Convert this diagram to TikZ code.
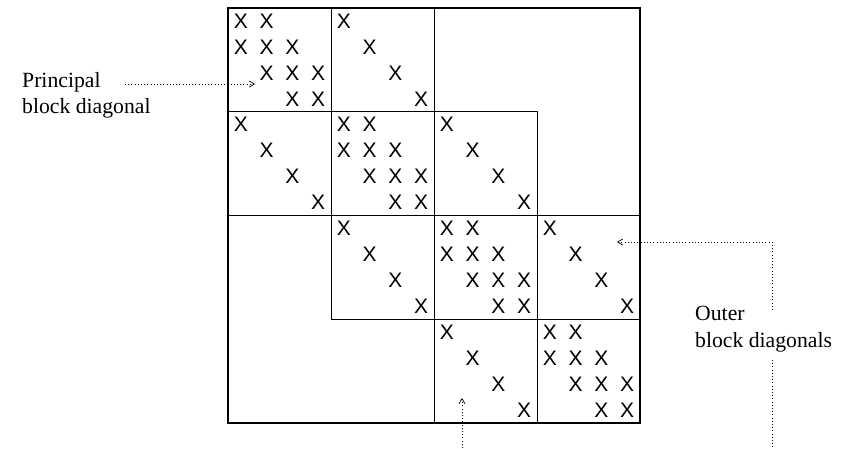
\documentclass[tikz,border=0pt]{standalone}
\usepackage{fontspec}
\setmainfont{Liberation Serif}
\newfontfamily\xfont{Liberation Sans}
\usetikzlibrary{arrows.meta}
\begin{document}
\begin{tikzpicture}[x=1pt,y=-1pt,
  blk/.style={draw,line width=1pt},
  frame/.style={draw,line width=2.5pt},
  ent/.style={font=\xfont\fontsize{21}{21}\selectfont, inner sep=0pt},
  lbl/.style={font=\fontsize{21.7}{26}\selectfont, inner sep=0pt, anchor=base west},
  dots/.style={line width=0.9pt, dash pattern=on 1pt off 2.2pt},
  ptr/.style={dots, -{Straight Barb[length=5pt,width=6pt,line width=0.7pt]}}]
\useasboundingbox (0,0) rectangle (850,448);
\def\bw{103}
\def\bh{103.75}
% diagonal blocks
\foreach \k in {0,...,3}{
  \draw[blk] ({228+\bw*\k},{8+\bh*\k}) rectangle +(\bw,\bh);
  \foreach \i in {0,...,3}{
    \foreach \j in {0,...,3}{
      \pgfmathtruncatemacro\d{abs(\i-\j)}
      \ifnum\d<2
        \node[ent] (d\k\i\j) at ({228+\bw*\k+\bw/4*(\j+0.5)},{8+\bh*\k+\bh/4*(\i+0.5)}) {X};
      \fi
    }
  }
}
% off-diagonal blocks
\foreach \k in {0,1,2}{
  \draw[blk] ({228+\bw*(\k+1)},{8+\bh*\k}) rectangle +(\bw,\bh);
  \draw[blk] ({228+\bw*\k},{8+\bh*(\k+1)}) rectangle +(\bw,\bh);
  \foreach \i in {0,...,3}{
    \node[ent] (u\k\i) at ({228+\bw*(\k+1)+\bw/4*(\i+0.5)},{8+\bh*\k+\bh/4*(\i+0.5)}) {X};
    \node[ent] (l\k\i) at ({228+\bw*\k+\bw/4*(\i+0.5)},{8+\bh*(\k+1)+\bh/4*(\i+0.5)}) {X};
  }
}
% outer frame
\draw[frame] (228,8) rectangle (640,423);
% labels
\node[lbl] (pl1) at (22,87) {Principal};
\node[lbl] (pl2) at (22,113) {block diagonal};
\node[lbl] (ol1) at (695,320) {Outer};
\node[lbl] (ol2) at (695,347) {block diagonals};
% pointers
\coordinate (pa) at (125,84);
\coordinate (pb) at (255,84);
\draw[ptr] (pa) -- (pb);
\coordinate (oa) at (772,310);
\coordinate (ob) at (617,242);
\draw[ptr] (oa) |- (ob);
\coordinate (oc) at (772,360);
\coordinate (od) at (772,448);
\draw[dots] (oc) -- (od);
\coordinate (oe) at (462,448);
\coordinate (of) at (462,398);
\draw[ptr] (oe) -- (of);
\end{tikzpicture}
\end{document}
